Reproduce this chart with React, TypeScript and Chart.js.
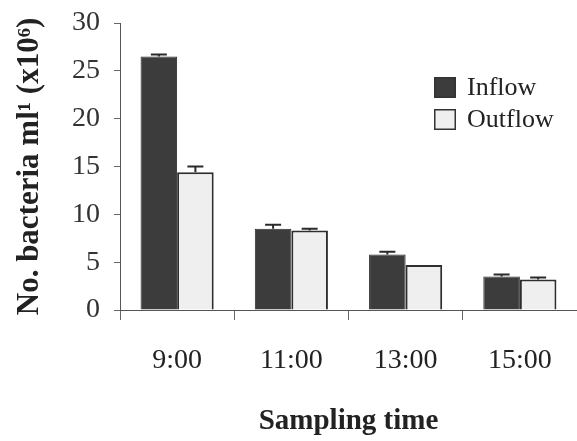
import React, { useEffect, useRef } from "react";
import { Chart, registerables } from "chart.js";

Chart.register(...registerables);

// ---- data ----
const categories = ["9:00", "11:00", "13:00", "15:00"];
const seriesNames = ["Inflow", "Outflow"];
const inflow = [26.5, 8.5, 5.8, 3.5];
const inflowErr = [0.2, 0.4, 0.3, 0.2];
const outflow = [14.4, 8.3, 4.7, 3.2];
const outflowErr = [0.6, 0.2, 0, 0.2];
const yTicks = [0, 5, 10, 15, 20, 25, 30];
const yTitle = "No. bacteria ml\u00B9 (x10\u2076)";
const xTitle = "Sampling time";

const SERIF = "'Liberation Serif', 'Times New Roman', serif";

const errorBarPlugin = {
  id: "errorBars",
  afterDatasetsDraw(chart: any) {
    const ctx = chart.ctx;
    const ys = chart.scales.y;
    chart.data.datasets.forEach((ds: any, di: number) => {
      const errs = ds.errors as number[] | undefined;
      if (!errs) return;
      const meta = chart.getDatasetMeta(di);
      meta.data.forEach((bar: any, i: number) => {
        const v = ds.data[i] as number;
        const e = errs[i];
        if (!e) return;
        const yTop = ys.getPixelForValue(v + e);
        const yBar = ys.getPixelForValue(v);
        ctx.save();
        ctx.strokeStyle = "#2a2a2a";
        ctx.lineWidth = 2;
        ctx.beginPath();
        ctx.moveTo(bar.x, yBar);
        ctx.lineTo(bar.x, yTop);
        ctx.moveTo(bar.x - 8, yTop);
        ctx.lineTo(bar.x + 8, yTop);
        ctx.stroke();
        ctx.restore();
      });
    });
  },
};

const legendPlugin = {
  id: "customLegend",
  afterDraw(chart: any) {
    const ctx = chart.ctx;
    const x0 = 434;
    const rows = [77, 109];
    ctx.save();
    chart.data.datasets.forEach((ds: any, i: number) => {
      const y = rows[i];
      ctx.fillStyle = ds.backgroundColor;
      ctx.fillRect(x0, y, 22, 21);
      ctx.strokeStyle = "#333";
      ctx.lineWidth = 1.5;
      ctx.strokeRect(x0 + 0.75, y + 0.75, 20.5, 19.5);
      ctx.fillStyle = "#222";
      ctx.font = `26px ${SERIF}`;
      ctx.textBaseline = "middle";
      ctx.textAlign = "left";
      ctx.fillText(ds.label, x0 + 33, y + 11);
    });
    ctx.restore();
  },
};

export default function App() {
  const ref = useRef<HTMLCanvasElement | null>(null);

  useEffect(() => {
    if (!ref.current) return;
    const chart = new Chart(ref.current, {
      type: "bar",
      data: {
        labels: categories,
        datasets: [
          {
            label: seriesNames[0],
            data: inflow,
            errors: inflowErr,
            backgroundColor: "#3c3c3c",
            borderColor: "#2a2a2a",
            borderWidth: 1,
            categoryPercentage: 0.64,
            barPercentage: 1.0,
          } as any,
          {
            label: seriesNames[1],
            data: outflow,
            errors: outflowErr,
            backgroundColor: "#efefef",
            borderColor: "#2e2e2e",
            borderWidth: 2,
            categoryPercentage: 0.64,
            barPercentage: 1.0,
          } as any,
        ],
      },
      options: {
        responsive: false,
        animation: false,
        layout: { padding: { top: 23, right: 0, bottom: 0, left: 0 } },
        plugins: {
          legend: { display: false },
          tooltip: { enabled: false },
        },
        scales: {
          x: {
            grid: {
              display: true,
              drawOnChartArea: false,
              drawTicks: true,
              tickLength: 10,
              color: "#666",
              offset: true,
            },
            border: { display: true, color: "#555", width: 1 },
            ticks: {
              color: "#222",
              font: { family: SERIF, size: 28 },
              padding: 24,
              maxRotation: 0,
            },
            title: {
              display: true,
              text: xTitle,
              color: "#222",
              font: { family: SERIF, size: 29, weight: "bold", lineHeight: 1.2 },
              padding: { top: 0, bottom: 2 },
            },
            afterFit(scale: any) {
              scale.height = 131;
              scale.paddingLeft = 0;
              scale.paddingRight = 0;
            },
          },
          y: {
            min: 0,
            max: 30,
            grid: {
              display: true,
              drawOnChartArea: false,
              drawTicks: true,
              tickLength: 6,
              color: "#666",
            },
            border: { display: true, color: "#555", width: 1 },
            afterBuildTicks(scale: any) {
              scale.ticks = yTicks.map((v) => ({ value: v }));
            },
            ticks: {
              color: "#333",
              font: { family: SERIF, size: 28 },
              padding: 14,
            },
            title: {
              display: true,
              text: yTitle,
              color: "#222",
              font: { family: SERIF, size: 31, weight: "bold", lineHeight: 1.2 },
              padding: { top: 11, bottom: 0 },
            },
            afterFit(scale: any) {
              scale.width = 120;
              scale.paddingTop = 0;
              scale.paddingBottom = 0;
            },
          },
        },
      },
      plugins: [errorBarPlugin, legendPlugin],
    } as any);
    return () => chart.destroy();
  }, []);

  return (
    <div style={{ position: "fixed", left: 0, top: 0, width: 577, height: 441, background: "#fff" }}>
      <canvas ref={ref} width={577} height={441} style={{ display: "block" }} />
    </div>
  );
}
